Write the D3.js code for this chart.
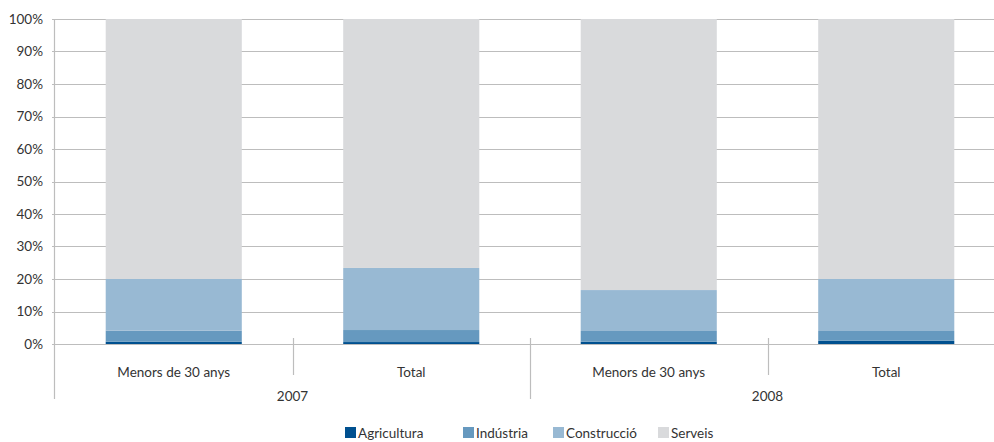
<!DOCTYPE html>
<html>
<head>
<meta charset="utf-8">
<script src="https://cdn.jsdelivr.net/npm/d3@7"></script>
<style>
  html, body { margin: 0; padding: 0; background: #fff; }
  svg { display: block; }
  text { font-family: Lato, "Open Sans", sans-serif; fill: #333; }
</style>
</head>
<body>
<svg id="chart" width="994" height="442"></svg>
<script>
const categories = ["Menors de 30 anys", "Total", "Menors de 30 anys", "Total"];
const groups = ["2007", "2008"];
const groupOf = [0, 0, 1, 1];
const seriesNames = ["Agricultura", "Indústria", "Construcció", "Serveis"];
const agricultura = [0.7, 0.6, 0.7, 1.0];
const industria = [3.4, 3.7, 3.3, 3.0];
const construccio = [15.9, 19.1, 12.6, 16.0];
const serveis = [80.0, 76.6, 83.4, 80.0];
const yTicks = [0, 10, 20, 30, 40, 50, 60, 70, 80, 90, 100];
const colors = ["#00508f", "#6699bf", "#98b9d3", "#d9dadc"];

const svg = d3.select("#chart");
const plotLeft = 55, plotRight = 1005, plotTop = 19, plotBottom = 344;

const keys = categories.map((c, i) => i);
const x = d3.scaleBand().domain(keys).range([plotLeft, plotRight]).paddingInner(0.427).paddingOuter(0.2135);
const y = d3.scaleLinear().domain([0, 100]).range([plotBottom, plotTop]);

const rows = keys.map(i => ({
  key: i,
  Agricultura: agricultura[i],
  "Indústria": industria[i],
  "Construcció": construccio[i],
  Serveis: serveis[i]
}));
const stacked = d3.stack().keys(seriesNames)(rows);

// grid
const grid = svg.append("g");
grid.selectAll("line").data(yTicks).join("line")
  .attr("x1", plotLeft - 3).attr("x2", plotRight)
  .attr("y1", d => Math.round(y(d)) + 0.5).attr("y2", d => Math.round(y(d)) + 0.5)
  .attr("stroke", "#bdbdbd").attr("stroke-width", 1.2);

// y labels
svg.append("g").selectAll("text").data(yTicks).join("text")
  .attr("x", 43).attr("y", d => y(d) + 4.5)
  .attr("text-anchor", "end").attr("font-size", 13.5)
  .text(d => d + "%");

// bars
svg.append("g").selectAll("g").data(stacked).join("g")
  .attr("fill", (d, i) => colors[i])
  .selectAll("rect").data(d => d).join("rect")
  .attr("x", d => x(d.data.key))
  .attr("width", x.bandwidth())
  .attr("y", d => y(d[1]))
  .attr("height", d => y(d[0]) - y(d[1]));

// axis lines
const step = x.step();
const ax = svg.append("g").attr("stroke", "#bdbdbd").attr("stroke-width", 1.2);
ax.append("line").attr("x1", plotLeft - 0.5).attr("x2", plotLeft - 0.5).attr("y1", plotTop).attr("y2", 399);
keys.slice(1).forEach(i => {
  const xs = Math.round(plotLeft + step * i) + 0.5;
  const isGroup = groupOf[i] !== groupOf[i - 1];
  ax.append("line").attr("x1", xs).attr("x2", xs).attr("y1", 338).attr("y2", isGroup ? 399 : 375);
});

// category labels
svg.append("g").selectAll("text").data(keys).join("text")
  .attr("x", d => x(d) + x.bandwidth() / 2).attr("y", 377)
  .attr("text-anchor", "middle").attr("font-size", 13.5)
  .text(d => categories[d]);

// group labels
svg.append("g").selectAll("text").data(groups).join("text")
  .attr("x", (d, gi) => {
    const idx = keys.filter(k => groupOf[k] === gi);
    return plotLeft + step * (idx[0] + idx[idx.length - 1] + 1) / 2;
  })
  .attr("y", 401)
  .attr("text-anchor", "middle").attr("font-size", 13.5)
  .text(d => d);

// legend
const legendX = [345, 463, 553, 658];
const lg = svg.append("g").selectAll("g").data(seriesNames).join("g")
  .attr("transform", (d, i) => `translate(${legendX[i]},427)`);
lg.append("rect").attr("width", 11).attr("height", 11).attr("fill", (d, i) => colors[i]);
lg.append("text").attr("x", 13).attr("y", 10.5).attr("font-size", 13.5).text(d => d);
</script>
</body>
</html>
